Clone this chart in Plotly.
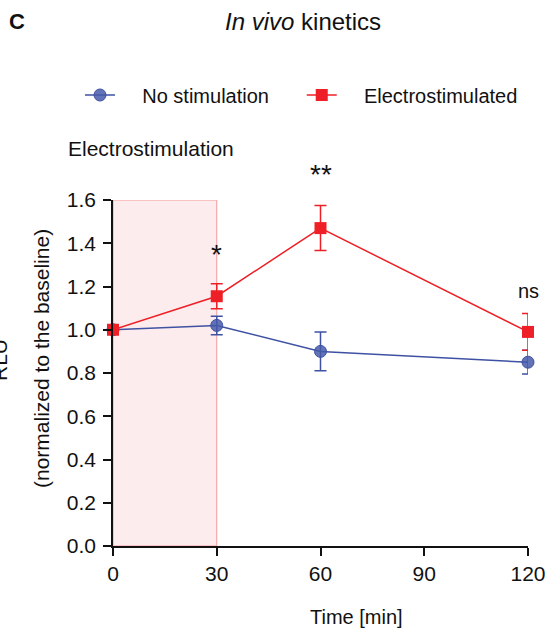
import plotly.graph_objects as go

time_min = [0, 30, 60, 120]
no_stim = [1.0, 1.02, 0.90, 0.85]
no_stim_err = [0.0, 0.043, 0.09, 0.055]
electro = [1.0, 1.155, 1.47, 0.99]
electro_err = [0.0, 0.058, 0.104, 0.085]
x_ticks = [0, 30, 60, 90, 120]
y_ticks = [0.0, 0.2, 0.4, 0.6, 0.8, 1.0, 1.2, 1.4, 1.6]
stim_window = [0, 30]
sig_labels = [(30, "*"), (60, "**"), (120, "ns")]

FONT = "Liberation Sans, Arial, sans-serif"
BLUE = "#3f51a3"
RED = "#ee1f26"

fig = go.Figure()

fig.add_shape(type="rect", xref="x", yref="y", x0=stim_window[0], x1=stim_window[1],
              y0=0, y1=1.6, fillcolor="#fdeced", line=dict(color="#f59a9c", width=1),
              layer="below")

fig.add_trace(go.Scatter(
    x=time_min, y=no_stim, name="&nbsp;&nbsp;&nbsp;&nbsp;No stimulation&nbsp;&nbsp;&nbsp;&nbsp;&nbsp;",
    mode="lines+markers", cliponaxis=False,
    line=dict(color=BLUE, width=1.5),
    marker=dict(symbol="circle", size=12, color="rgba(70,90,170,0.85)",
                line=dict(color=BLUE, width=1)),
    error_y=dict(type="data", array=no_stim_err, color=BLUE, thickness=1.5, width=6),
))
fig.add_trace(go.Scatter(
    x=time_min, y=electro, name="&nbsp;&nbsp;&nbsp;&nbsp;Electrostimulated",
    mode="lines+markers", cliponaxis=False,
    line=dict(color=RED, width=1.5),
    marker=dict(symbol="square", size=12, color=RED),
    error_y=dict(type="data", array=electro_err, color=RED, thickness=1.5, width=6),
))

annotations = [
    dict(text="<b>C</b>", xref="paper", yref="paper", x=0, y=1, xshift=-113 + 7,
         yshift=200 - 21, xanchor="left", yanchor="middle", showarrow=False,
         font=dict(family=FONT, size=22, color="#111")),
    dict(text="<i>In vivo</i> kinetics", xref="paper", yref="paper", x=0, y=1,
         xshift=303 - 113, yshift=200 - 21, xanchor="center", yanchor="middle",
         showarrow=False, font=dict(family=FONT, size=24, color="#111")),
    dict(text="Electrostimulation", xref="paper", yref="paper", x=0, y=1,
         xshift=66 - 113, yshift=200 - 148, xanchor="left", yanchor="middle",
         showarrow=False, font=dict(family=FONT, size=21, color="#111")),
    dict(text="(normalized to the baseline)", xref="paper", yref="paper", x=0,
         y=(546 - 359) / 346, xshift=41 - 113, xanchor="center", yanchor="middle",
         textangle=-90, showarrow=False, font=dict(family=FONT, size=21, color="#111")),
    dict(text="RLU", xref="paper", yref="paper", x=0, y=(546 - 360) / 346,
         xshift=-1 - 113, xanchor="center", yanchor="middle",
         textangle=-90, showarrow=False, font=dict(family=FONT, size=21, color="#111")),
    dict(text="Time [min]", xref="paper", yref="paper", x=0, y=0,
         xshift=356 - 113, yshift=-(617 - 546), xanchor="center", yanchor="middle",
         showarrow=False, font=dict(family=FONT, size=20, color="#111")),
]
sig_y = {30: (546 - 272) / 346, 60: (546 - 192) / 346, 120: (546 - 304) / 346}
for xv, lab in sig_labels:
    annotations.append(dict(text=lab, x=xv, y=sig_y[xv], xref="x", yref="paper",
                            xanchor="center", yanchor="bottom", showarrow=False,
                            font=dict(family=FONT, size=28 if "*" in lab else 20,
                                      color="#111")))

fig.update_layout(
    width=552, height=634,
    margin=dict(l=113, r=24, t=200, b=88),
    paper_bgcolor="white", plot_bgcolor="white",
    font=dict(family=FONT, size=20, color="#111"),
    showlegend=True,
    legend=dict(orientation="h", x=(80 - 113) / 415, xanchor="left",
                y=(546 - 95) / 346, yanchor="middle",
                font=dict(family=FONT, size=20, color="#111"),
                bgcolor="rgba(0,0,0,0)", itemwidth=30),
    annotations=annotations,
    xaxis=dict(range=[0, 120], tickvals=x_ticks, ticktext=[str(v) for v in x_ticks],
               showgrid=False, zeroline=False, showline=True, linecolor="#111",
               linewidth=1.5, ticks="outside", ticklen=8, tickwidth=1.5,
               tickcolor="#111", tickfont=dict(size=21), automargin=False),
    yaxis=dict(range=[0, 1.6], tickvals=y_ticks, ticktext=[f"{v:.1f}" for v in y_ticks],
               showgrid=False, zeroline=False, showline=True, linecolor="#111",
               linewidth=1.5, ticks="outside", ticklen=8, tickwidth=1.5,
               tickcolor="#111", tickfont=dict(size=21), ticklabelstandoff=3,
               automargin=False),
)

fig.write_html("out.html")
